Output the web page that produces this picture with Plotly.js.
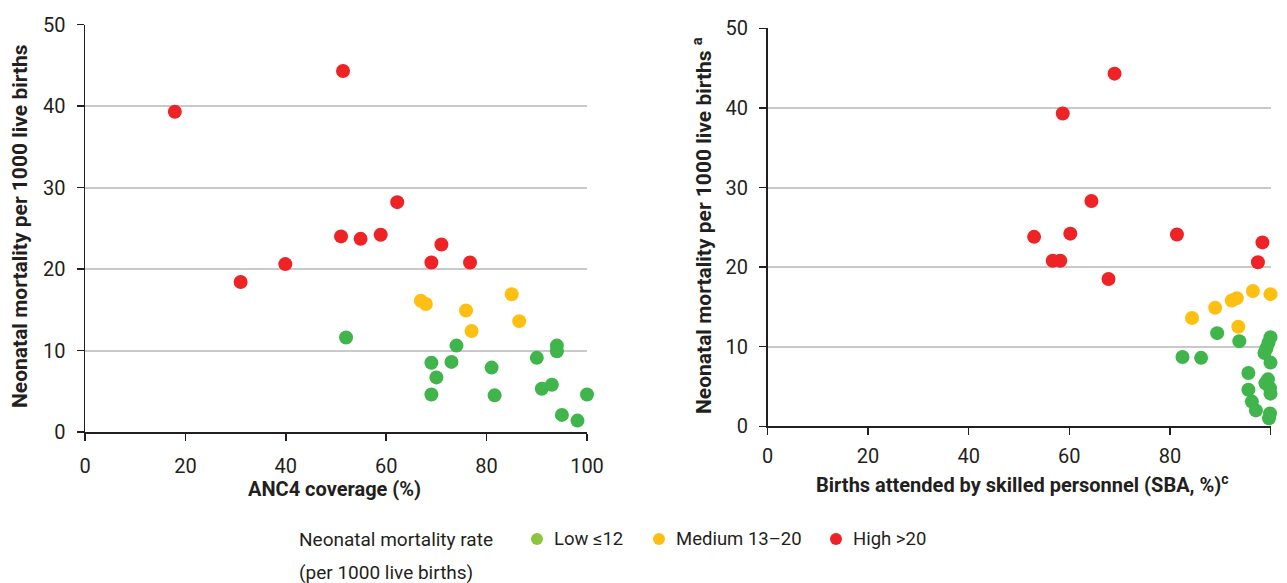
<!DOCTYPE html>
<html>
<head>
<meta charset="utf-8">
<script src="https://cdn.plot.ly/plotly-3.0.1.min.js"></script>
<style>
  html, body { margin: 0; padding: 0; background: #fff; }
  #chart { width: 1287px; height: 583px; }
</style>
</head>
<body>
<div id="chart"></div>
<script>
// ANC4 coverage (%) against neonatal mortality, grouped by mortality band
const ancLowX   = [52.0, 74.0, 69.0, 73.0, 70.0, 69.0, 81.0, 81.6, 90.0, 94.0, 94.0, 91.0, 93.0, 100.0, 95.0, 98.1];
const ancLowNmr = [11.6, 10.6, 8.5, 8.6, 6.7, 4.6, 7.9, 4.5, 9.1, 10.6, 9.9, 5.3, 5.8, 4.6, 2.1, 1.4];
const ancMedX   = [66.9, 67.9, 75.9, 77.0, 85.0, 86.5];
const ancMedNmr = [16.1, 15.7, 14.9, 12.4, 16.9, 13.6];
const ancHighX   = [17.9, 51.4, 31.0, 39.9, 51.0, 54.9, 58.9, 62.2, 71.0, 69.0, 76.7];
const ancHighNmr = [39.3, 44.3, 18.4, 20.6, 24.0, 23.7, 24.2, 28.2, 23.0, 20.8, 20.8];

// Births attended by skilled personnel (%) against neonatal mortality
const sbaLowX   = [89.4, 93.8, 82.5, 86.2, 95.6, 95.6, 96.3, 97.1, 100.0, 99.6, 99.2, 98.8, 100.0, 99.5, 99.0, 99.9, 100.0, 99.9, 99.7];
const sbaLowNmr = [11.7, 10.7, 8.7, 8.6, 6.7, 4.6, 3.1, 2.0, 11.2, 10.5, 9.8, 9.2, 8.0, 5.9, 5.4, 4.8, 4.1, 1.6, 1.0];
const sbaMedX   = [84.4, 89.0, 92.3, 93.3, 96.5, 100.0, 93.6];
const sbaMedNmr = [13.6, 14.9, 15.8, 16.1, 17.0, 16.6, 12.5];
const sbaHighX   = [69.0, 58.7, 64.4, 53.0, 60.2, 81.4, 56.7, 58.2, 67.8, 98.4, 97.5];
const sbaHighNmr = [44.3, 39.3, 28.3, 23.8, 24.2, 24.1, 20.8, 20.8, 18.5, 23.1, 20.6];

// Axis ticks, titles and legend text
const xTicks = [0, 20, 40, 60, 80, 100];
const yTicks = [0, 10, 20, 30, 40, 50];
const yTitleAnc = 'Neonatal mortality per 1000 live births';
const yTitleSba = 'Neonatal mortality per 1000 live births <sup>a</sup>';
const xTitleAnc = 'ANC4 coverage (%)';
const xTitleSba = 'Births attended by skilled personnel (SBA, %)<sup>c</sup>';
const legendTitle = ['Neonatal mortality rate', '(per 1000 live births)'];
const legendLabels = ['Low \u226412', 'Medium 13\u201320', 'High >20'];

const COL_LOW = '#3FB54B';
const COL_MED = '#FDC012';
const COL_HIGH = '#EE2326';
const LEGEND_COLORS = ['#8CC63F', '#FDC012', '#EE2326'];
const INK = '#231F20';

const FONT = 'Roboto, "Liberation Sans", sans-serif';
const W = 1287, H = 583;

function pts(x, y, color, xa, ya) {
  return {
    type: 'scatter', mode: 'markers', x: x, y: y,
    xaxis: xa, yaxis: ya, cliponaxis: false, showlegend: false,
    marker: { size: 14, color: color, line: { width: 0 } },
    hoverinfo: 'x+y'
  };
}

const data = [
  pts(ancLowX, ancLowNmr, COL_LOW, 'x', 'y'),
  pts(ancMedX, ancMedNmr, COL_MED, 'x', 'y'),
  pts(ancHighX, ancHighNmr, COL_HIGH, 'x', 'y'),
  pts(sbaLowX, sbaLowNmr, COL_LOW, 'x2', 'y2'),
  pts(sbaMedX, sbaMedNmr, COL_MED, 'x2', 'y2'),
  pts(sbaHighX, sbaHighNmr, COL_HIGH, 'x2', 'y2')
];

function xAxis(domain, anchor, labelShift) {
  return {
    domain: domain, anchor: anchor, range: [0, 100],
    tickvals: xTicks, ticktext: xTicks.map(String),
    ticks: 'outside', ticklen: 7, tickwidth: 1.5, tickcolor: INK,
    ticklabelstandoff: labelShift,
    showline: true, linecolor: INK, linewidth: 1.5,
    showgrid: false, zeroline: false,
    tickfont: { family: FONT, size: 20, color: INK }
  };
}
function yAxis(domain, anchor) {
  return {
    domain: domain, anchor: anchor, range: [0, 50],
    tickvals: yTicks, ticktext: yTicks.map(String),
    ticks: 'outside', ticklen: 7, tickwidth: 1.5, tickcolor: INK,
    ticklabelstandoff: 7,
    showline: true, linecolor: INK, linewidth: 1.5,
    showgrid: true, gridcolor: '#C9C9C9', gridwidth: 2,
    zeroline: false,
    tickfont: { family: FONT, size: 20, color: INK }
  };
}

const shapes = [];
const annotations = [];

// axis titles
const xTitleFont = { family: FONT, size: 20, color: INK, weight: 'bold' };
const yTitleFont = { family: FONT, size: 21, color: INK, weight: 'bold' };
[
  { text: xTitleAnc, x: 334, y: 489, angle: 0, font: xTitleFont },
  { text: xTitleSba, x: 1022, y: 484, angle: 0, font: xTitleFont },
  { text: yTitleAnc, x: 20, y: 226, angle: -90, font: yTitleFont },
  { text: yTitleSba, x: 702, y: 226, angle: -90, font: yTitleFont }
].forEach(function (t) {
  annotations.push({
    xref: 'paper', yref: 'paper', x: t.x / W, y: 1 - t.y / H,
    xanchor: 'center', yanchor: 'middle', showarrow: false,
    textangle: t.angle, text: t.text, font: t.font
  });
});

// legend
const dotX = [537, 659, 836];
const labX = [552, 674, 851];
const legY = 539;
const legFont = { family: FONT, size: 19, color: INK };
const itemFont = { family: FONT, size: 18.5, color: INK };
for (let i = 0; i < legendLabels.length; i++) {
  shapes.push({
    type: 'circle', xref: 'paper', yref: 'paper',
    xsizemode: 'pixel', ysizemode: 'pixel',
    xanchor: dotX[i] / W, yanchor: 1 - legY / H,
    x0: -6, x1: 6, y0: -6, y1: 6,
    fillcolor: LEGEND_COLORS[i], line: { width: 0 }
  });
  annotations.push({
    xref: 'paper', yref: 'paper', x: labX[i] / W, y: 1 - legY / H,
    xanchor: 'left', yanchor: 'middle', showarrow: false,
    text: legendLabels[i], font: itemFont
  });
}
legendTitle.forEach(function (line, k) {
  annotations.push({
    xref: 'paper', yref: 'paper', x: 297 / W, y: 1 - (legY + 33 * k) / H,
    xanchor: 'left', yanchor: 'middle', showarrow: false,
    text: line, font: legFont
  });
});

const layout = {
  width: W, height: H,
  margin: { l: 0, r: 0, t: 0, b: 0 },
  paper_bgcolor: '#ffffff', plot_bgcolor: '#ffffff',
  showlegend: false,
  xaxis: xAxis([85 / W, 587 / W], 'y', 8),
  yaxis: yAxis([1 - 432 / H, 1 - 24.5 / H], 'x'),
  xaxis2: xAxis([767.5 / W, 1270.5 / W], 'y2', 4),
  yaxis2: yAxis([1 - 426.3 / H, 1 - 28.3 / H], 'x2'),
  shapes: shapes,
  annotations: annotations
};

Plotly.newPlot('chart', data, layout, { displayModeBar: false, staticPlot: true });
</script>
</body>
</html>
